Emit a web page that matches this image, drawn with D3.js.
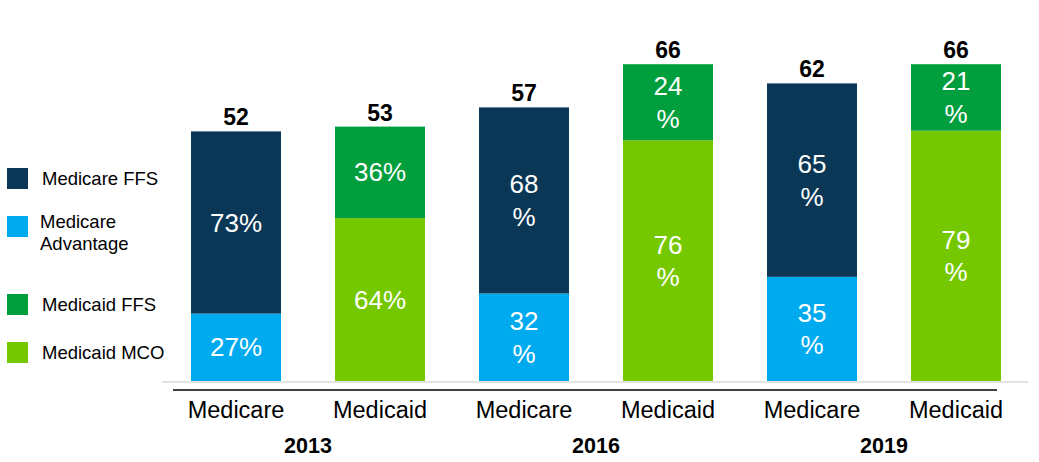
<!DOCTYPE html>
<html>
<head>
<meta charset="utf-8">
<script src="https://cdn.jsdelivr.net/npm/d3@7"></script>
<style>
  body { margin: 0; background: #fff; }
  text { font-family: "Liberation Sans", Arial, sans-serif; }
</style>
</head>
<body>
<div id="chart"></div>
<script>
// data
var programs = ["Medicare", "Medicaid", "Medicare", "Medicaid", "Medicare", "Medicaid"];
var years = ["2013", "2013", "2016", "2016", "2019", "2019"];
var totals = [52, 53, 57, 66, 62, 66];
// share of each bar: top segment (FFS) and bottom segment (Advantage / MCO)
var ffsPct = [73, 36, 68, 24, 65, 21];
var managedPct = [27, 64, 32, 76, 35, 79];
var seriesNames = ["Medicare FFS", "Medicare Advantage", "Medicaid FFS", "Medicaid MCO"];
var seriesColors = ["#0b3757", "#00aaef", "#009e3d", "#75c800"];

var w = 1039, h = 462;
var wrapFrom = 2; // bars from 2016 on show "nn" and "%" on two lines

var svg = d3.select("#chart").append("svg")
    .attr("width", w)
    .attr("height", h);

var x = d3.scaleBand()
    .domain(d3.range(programs.length))
    .range([164, 1028])
    .paddingInner(0.375)
    .paddingOuter(0.1875);

var y = d3.scaleLinear()
    .domain([0, 70])
    .range([381, 45]);

var color = d3.scaleOrdinal().domain(seriesNames).range(seriesColors);

// build segments: bottom = managed care, top = FFS
var segs = [];
programs.forEach(function (p, i) {
    var isCare = p == "Medicare";
    var low = totals[i] * managedPct[i] / 100;
    segs.push({i: i, key: isCare ? "Medicare Advantage" : "Medicaid MCO", y0: 0, y1: low, pct: managedPct[i]});
    segs.push({i: i, key: isCare ? "Medicare FFS" : "Medicaid FFS", y0: low, y1: totals[i], pct: ffsPct[i]});
});

// light baseline
svg.append("line")
    .attr("x1", 162).attr("x2", 1028)
    .attr("y1", y(0) + 1).attr("y2", y(0) + 1)
    .attr("stroke", "#d9d9d9").attr("stroke-width", 1.5);

// bars
svg.append("g").selectAll("rect")
    .data(segs)
    .enter()
    .append("rect")
    .attr("x", function (d) { return x(d.i); })
    .attr("width", x.bandwidth())
    .attr("y", function (d) { return y(d.y1); })
    .attr("height", function (d) { return y(d.y0) - y(d.y1); })
    .attr("fill", function (d) { return color(d.key); });

// percent labels inside segments
var pl = svg.append("g").selectAll("text")
    .data(segs)
    .enter()
    .append("text")
    .attr("text-anchor", "middle")
    .attr("fill", "#fff")
    .attr("font-size", "26px")
    .attr("x", function (d) { return x(d.i) + x.bandwidth() / 2; })
    .attr("y", function (d) { return (y(d.y0) + y(d.y1)) / 2; });

pl.each(function (d) {
    var t = d3.select(this);
    var cx = x(d.i) + x.bandwidth() / 2;
    if (d.i < wrapFrom) {
        t.append("tspan").attr("x", cx).attr("dy", "0.35em").text(d.pct + "%");
    } else {
        t.append("tspan").attr("x", cx).attr("dy", "-0.27em").text(d.pct);
        t.append("tspan").attr("x", cx).attr("dy", "1.25em").text("%");
    }
});

// totals on top
svg.append("g").selectAll("text")
    .data(totals)
    .enter()
    .append("text")
    .attr("text-anchor", "middle")
    .attr("font-weight", "bold")
    .attr("font-size", "23px")
    .attr("x", function (d, i) { return x(i) + x.bandwidth() / 2; })
    .attr("y", function (d) { return y(d) - 6; })
    .text(function (d) { return d; });

// black axis line
svg.append("line")
    .attr("x1", 173).attr("x2", 997)
    .attr("y1", 390).attr("y2", 390)
    .attr("stroke", "#000").attr("stroke-width", 1.5);

// program labels
svg.append("g").selectAll("text")
    .data(programs)
    .enter()
    .append("text")
    .attr("text-anchor", "middle")
    .attr("font-size", "23.5px")
    .attr("x", function (d, i) { return x(i) + x.bandwidth() / 2; })
    .attr("y", 418)
    .text(function (d) { return d; });

// year labels, centred under each pair
var yearList = Array.from(new Set(years));
svg.append("g").selectAll("text")
    .data(yearList)
    .enter()
    .append("text")
    .attr("text-anchor", "middle")
    .attr("font-weight", "bold")
    .attr("font-size", "21.5px")
    .attr("x", function (yr) {
        var idx = d3.range(years.length).filter(function (i) { return years[i] == yr; });
        return d3.mean(idx, function (i) { return x(i) + x.bandwidth() / 2; });
    })
    .attr("y", 453)
    .text(function (d) { return d; });

// legend
var legY = [168, 216, 294, 342];
var leg = svg.append("g").selectAll("g")
    .data(seriesNames)
    .enter()
    .append("g")
    .attr("transform", function (d, i) { return "translate(7," + legY[i] + ")"; });

leg.append("rect")
    .attr("width", 21).attr("height", 21)
    .attr("fill", function (d) { return color(d); });

leg.append("text")
    .attr("font-size", "18.5px")
    .attr("y", 11)
    .each(function (d) {
        var t = d3.select(this);
        var words = d.split(" ");
        if (d == "Medicare Advantage") {
            t.append("tspan").attr("x", 33).attr("dy", "0.05em").text(words[0]);
            t.append("tspan").attr("x", 33).attr("dy", "1.2em").text(words[1]);
        } else {
            t.append("tspan").attr("x", 35).attr("dy", "0.35em").text(d);
        }
    });
</script>
</body>
</html>
